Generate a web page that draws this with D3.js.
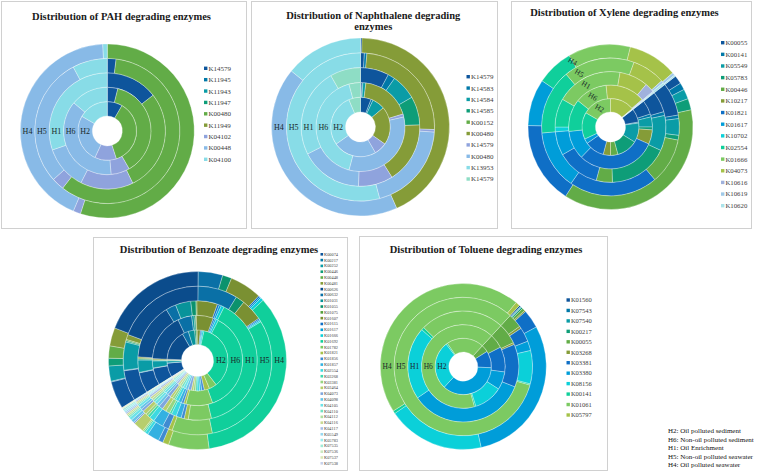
<!DOCTYPE html>
<html><head><meta charset="utf-8">
<script src="https://cdn.jsdelivr.net/npm/d3@7"></script>
<style>body{margin:0;background:#fff}svg{display:block}</style>
</head><body>
<svg id="c" width="758" height="471"></svg>
<script>
// ---------- shared ----------
const ringNames = ["H2","H6","H1","H5","H4"]; // inner -> outer
const footnote = ["H2: Oil polluted sediment","H6: Non-oil polluted sediment","H1: Oil Enrichment","H5: Non-oil polluted seawater","H4: Oil polluted seawater"];

const dark6   = ["#0E559C","#0078A8","#0A9CA6","#0E9D78","#62AC47","#859C38"];
const base6   = ["#0F6FC6","#009DD9","#0BD0D9","#10CF9B","#7CCA62","#A5C249"];
const light4  = ["#8FA3DD","#88BAE7","#88DCE7","#8EDDC5"];
const darker6 = ["#0B4C8C","#0A70A6","#08939A","#0B926D","#52A03A","#7A9032"];
const mid6    = ["#3F8BD1","#33B1E1","#3CD9E1","#40D9AF","#96D581","#B7CE6D"];
const light6  = ["#7FA6DD","#66C4E8","#6DE3E8","#70E2C3","#B0DFA0","#C9DA92"];
const lighter6= ["#A9BFE6","#99D8F0","#9DECF0","#9FEBD7","#CAE9BF","#DBE7B6"];

// ---------- PAH ----------
const pahCategories = ["K14579","K11945","K11943","K11947","K00480","K11949","K04102","K00448","K04100"];
const pahH2 = [30,0,0,0,132,0,43,95,60];
const pahH6 = [14,0,0,0,136,0,25,135,50];
const pahH1 = [52,0,0,0,102,0,53,44,109];
const pahH5 = [7,0,0,0,211,0,10,104,28];
const pahH4 = [0,0,0,0,198,0,5,154,3];

// ---------- Naphthalene ----------
const napCategories = ["K14579","K14583","K14584","K14585","K00152","K00480","K14579","K00480","K13953","K14579"];
const napH2 = [21,4,25,0,0,75,25,85,102,23];
const napH6 = [2,1,4,0,0,66,4,118,150,15];
const napH1 = [28,7,25,28,0,60,34,61,87,30];
const napH5 = [3,2,0,0,0,87,2,71,195,0];
const napH4 = [1,0,0,0,0,155,0,153,51,0];

// ---------- Xylene ----------
const xylCategories = ["K00055","K00141","K05549","K05783","K00446","K10217","K01821","K01617","K10702","K02554","K01666","K04073","K10616","K10619","K10620"];
const xylH2 = [28,2,40,43,15,15,40,10,0,55,60,50,0,1,1];
const xylH6 = [20,4,14,4,0,20,110,40,0,45,45,55,1,1,1];
const xylH1 = [22,4,37,63,17,0,45,25,5,30,70,30,10,1,1];
const xylH5 = [28,3,14,4,39,0,75,50,0,55,60,28,0,2,2];
const xylH4 = [6,5,7,8,135,0,58,33,0,26,44,35,0,2,1];

// ---------- Benzoate ----------
const benCategories = ["K00074","K00217","K00252","K00446","K00448","K00481","K00626","K00632","K01031","K01055","K01075","K01607","K01615","K01617","K01666","K01692","K01782","K01821","K01856","K01857","K02554","K03268","K03381","K03464","K04073","K04098","K04105","K04110","K04112","K04116","K04117","K05549","K05783","K07535","K07536","K07537","K07538"];
const benH2 = [27,0.5,4,1,1,1,58,12,12,3,2,6,2,2,3,130,14.5,10,5,4,5,3,4,4,6,5,5,4,4,4,4,3,3,3,2,2,1];
const benH6 = [22,0.5,9,1,0.5,1.5,62,18,3,2,1,22,2,2,3,133,34.5,3,3,4,4,2,3,3,4,3,3,2,2,2,2,1,1,0.5,0.5,0,0];
const benH1 = [20,0.5,12,1,1,1,55,10,15,5,1,20,2,2,3,140,22.5,4,3,5,5,2,4,4,4,3,3,2,2,2,2,1,1,1,0.5,0.5,0];
const benH5 = [24,0.5,22,1,1,4,70,31,0,7,0,17,1,1,1,110,31.5,3,5,8,4,2,2,3,2,2,2,1,1,1,1,0.5,0.5,0,0,0,0];
const benH4 = [18,0.5,10,5,8,12,69,16,0,6,0,21,1,1,2,125,26.5,4,3,8,2,1,1,7,1,2,2,1,1,1,1,1,1,1,0.5,0.5,0];

// ---------- Toluene ----------
const tolCategories = ["K01560","K07543","K07540","K00217","K00055","K03268","K03381","K03380","K08156","K00141","K01061","K05797"];
const tolH2 = [0,0,0,0,15,0,35,130,100,3,77,0];
const tolH6 = [0,0,0,0,20,0,35,25,40,2,238,0];
const tolH1 = [0,0,0,0,22,2,45,124,76,3,88,0];
const tolH5 = [0,0,0,0,12,2,12,8,28,1,297,0];
const tolH4 = [1,0.5,0.5,1,2,1,13,106,68,2,162,3];

// ---------- drawing ----------
const svg = d3.select("#c");
const SERIF = "'Liberation Serif','Times New Roman',serif";

function frame(x0,y0,x1,y1){
  svg.append("rect").attr("x",x0+0.5).attr("y",y0+0.5).attr("width",x1-x0).attr("height",y1-y0)
    .attr("fill","#fff").attr("stroke","#d0d0d0").attr("stroke-width",1);
}
function title(lines,cx,y,dy){
  lines.forEach((t,i)=>svg.append("text").attr("x",cx).attr("y",y+i*dy).attr("text-anchor","middle")
    .attr("font-family",SERIF).attr("font-weight","bold").attr("font-size",10.5).attr("fill","#1a1a1a").text(t));
}
function donut(s){
  const g = svg.append("g").attr("transform",`translate(${s.cx},${s.cy})`);
  const rScale = d3.scaleBand().domain(ringNames).range([s.r0,s.r1]);
  const color = d3.scaleOrdinal().domain(d3.range(s.categories.length)).range(s.colors);
  const a0 = s.start*Math.PI/180;
  const pie = d3.pie().sort(null).value(d=>d.v).startAngle(a0).endAngle(a0+2*Math.PI);
  ringNames.forEach((name,i)=>{
    const arc = d3.arc().innerRadius(rScale(name)).outerRadius(rScale(name)+rScale.bandwidth());
    const arcs = pie(s.rings[i].map((v,k)=>({v,k}))).filter(d=>d.data.v>0);
    g.append("g").selectAll("path").data(arcs).join("path")
      .attr("d",arc).attr("fill",d=>color(d.data.k))
      .attr("stroke","#fff").attr("stroke-width",0.5).attr("stroke-opacity",0.6);
  });
  const la = s.labelAngle*Math.PI/180;
  ringNames.forEach(name=>{
    const r = rScale(name)+rScale.bandwidth()/2;
    g.append("text").attr("transform",`translate(${r*Math.sin(la)},${-r*Math.cos(la)}) rotate(${s.labelRotate||0})`)
      .attr("text-anchor","middle").attr("dy","0.35em").attr("font-family",SERIF).attr("font-size",s.labelSize||8)
      .attr("fill","#1a2a2a").text(name);
  });
}
function legend(cats,colors,x,y0,y1,fs,box){
  const y = d3.scalePoint().domain(d3.range(cats.length)).range([y0,y1]);
  const g = svg.append("g");
  cats.forEach((c,i)=>{
    g.append("rect").attr("x",x).attr("y",y(i)-box/2).attr("width",box).attr("height",box).attr("fill",colors[i]);
    g.append("text").attr("x",x+box+1).attr("y",y(i)).attr("dy","0.35em").attr("font-family",SERIF)
      .attr("font-size",fs).attr("fill","#404040").text(c);
  });
}

// frames
frame(1,1,246,228); frame(251,1,497,228); frame(511,1,751,228);
frame(93,237,347,470); frame(359,236,607,470);

// PAH
title(["Distribution of PAH degrading enzymes"],121.5,19.5,0);
donut({cx:107.3,cy:131,r0:15,r1:87,start:0,categories:pahCategories,colors:dark6.concat(light4.slice(0,3)),
  rings:[pahH2,pahH6,pahH1,pahH5,pahH4],labelAngle:270});
legend(pahCategories,dark6.concat(light4.slice(0,3)),204,68.3,159.3,7,3.4);

// Naphthalene
title(["Distribution of Naphthalene degrading","enzymes"],373.3,18.5,11);
donut({cx:360.5,cy:127,r0:15,r1:89,start:0,categories:napCategories,colors:dark6.concat(light4),
  rings:[napH2,napH6,napH1,napH5,napH4],labelAngle:270});
legend(napCategories,dark6.concat(light4),466.5,76.7,179,7,3.4);

// Xylene
const xylColors = dark6.concat(base6,["#A0B1DC","#A0C9E8","#ABE3EA"]);
title(["Distribution of Xylene degrading enzymes"],624.5,16,0);
donut({cx:610.5,cy:127,r0:15,r1:82.5,start:52,categories:xylCategories,colors:xylColors,
  rings:[xylH2,xylH6,xylH1,xylH5,xylH4],labelAngle:330,labelRotate:30,labelSize:7.5});
legend(xylCategories,xylColors,721,42.7,205.7,6.8,3.4);

// Benzoate
const benColors = dark6.concat(darker6,base6,mid6,light6,lighter6,["#C8D2EC"]);
title(["Distribution of Benzoate degrading enzymes"],219,252.5,0);
donut({cx:197.5,cy:360.5,r0:16,r1:89,start:238,categories:benCategories,colors:benColors,
  rings:[benH2,benH6,benH1,benH5,benH4],labelAngle:90});
legend(benCategories,benColors,320.5,254.3,463.3,4.3,2.6);

// Toluene
const tolColors = dark6.concat(base6);
title(["Distribution of Toluene degrading enzymes"],486,253,0);
donut({cx:463.3,cy:366.5,r0:14.5,r1:83,start:42.6,categories:tolCategories,colors:tolColors,
  rings:[tolH2,tolH6,tolH1,tolH5,tolH4],labelAngle:270,labelSize:7.5});
legend(tolCategories,tolColors,566.5,300,415,6.5,3.4);

// footnote
footnote.forEach((t,i)=>svg.append("text").attr("x",668).attr("y",431+i*8.35).attr("dy","0.35em")
  .attr("font-family",SERIF).attr("font-size",7).attr("fill","#111").text(t));
</script>
</body></html>
